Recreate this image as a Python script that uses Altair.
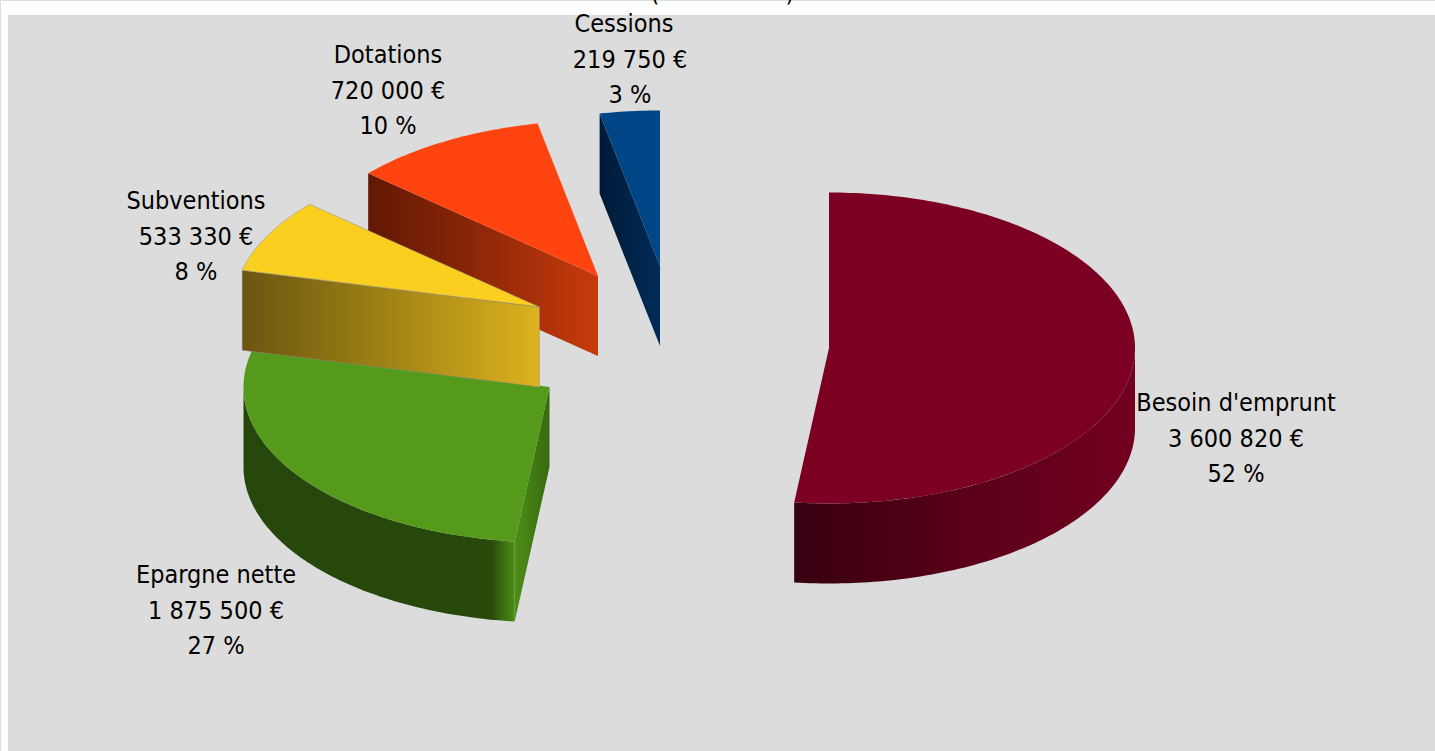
import math
import altair as alt

# Funding sources, in euros
names = ["Besoin d'emprunt", "Epargne nette", "Subventions", "Dotations", "Cessions"]
amounts = [3600820, 1875500, 533330, 720000, 219750]
shares = [52, 27, 8, 10, 3]

# Colours of the top faces
top_colours = ["#7b0021", "#559a1b", "#fbcf1f", "#ff4410", "#004586"]

# Geometry of the exploded pie, in canvas pixels
RX, RY, DEPTH = 306, 155.5, 80
apexes = [(829, 348), (549.5, 387), (539.5, 307), (598, 276), (660, 266)]
label_centres = [(1236, 403), (216, 575), (196, 201), (388, 55), (630, 24)]
name_shift = [0, 0, 0, 0, -6]
LINE_STEP = 35.5

WIDTH, HEIGHT = 1435, 751

total = sum(amounts)
bounds = [0.0]
for a in amounts:
    bounds.append(bounds[-1] + a / total * 360)


def rim(apex, deg, drop=0):
    t = math.radians(deg)
    return [apex[0] + RX * math.sin(t), apex[1] - RY * math.cos(t) + drop]


def sweep(apex, a0, a1, drop=0):
    n = max(2, int(abs(a1 - a0)) + 2)
    return [rim(apex, a0 + (a1 - a0) * i / (n - 1), drop) for i in range(n)]


def shape(ring):
    return {
        "type": "Feature",
        "properties": {},
        "geometry": {"type": "Polygon", "coordinates": [ring + [ring[0]]]},
    }


def top_face(i):
    return shape([list(apexes[i])] + sweep(apexes[i], bounds[i], bounds[i + 1]))


def radial_wall(i, deg):
    ax, ay = apexes[i]
    p = rim(apexes[i], deg)
    return shape([[ax, ay], p, [p[0], p[1] + DEPTH], [ax, ay + DEPTH]])


def outer_wall(i, a0, a1):
    return shape(sweep(apexes[i], a0, a1) + sweep(apexes[i], a1, a0, DEPTH))


def gradient(stops, x2=1, y2=0):
    return alt.Gradient(
        gradient="linear",
        x1=0, y1=0, x2=x2, y2=y2,
        stops=[alt.GradientStop(offset=o, color=c) for o, c in stops],
    )


def piece(feature, fill, **style):
    return (
        alt.Chart(alt.InlineData(values=[feature]))
        .mark_geoshape(fill=fill, **style)
        .project(type="identity", scale=1, translate=[0, 0])
    )


EDGE = dict(stroke="#8c8c8c", strokeWidth=0.5)
NOEDGE = dict(strokeWidth=0)

backdrop = alt.Chart(alt.InlineData(values=[{}])).mark_rect(color="#dcdcdc").encode(
    x=alt.value(8), x2=alt.value(WIDTH), y=alt.value(15), y2=alt.value(HEIGHT)
)

layers = [
    backdrop,
    # Cessions
    piece(radial_wall(4, bounds[4]), gradient([(0, "#001a36"), (1, "#002c58")]), **NOEDGE),
    piece(top_face(4), top_colours[4], **NOEDGE),
    # Dotations
    piece(radial_wall(3, bounds[3]),
          gradient([(0, "#621804"), (0.45, "#8a2607"), (1, "#c83a0c")]), **NOEDGE),
    piece(top_face(3), top_colours[3], **NOEDGE),
    # Epargne nette
    piece(outer_wall(1, bounds[1], 270),
          gradient([(0, "#26470b"), (0.91, "#27490b"), (1, "#4c8d18")]),
          **NOEDGE),
    piece(radial_wall(1, bounds[1]),
          gradient([(0, "#4e8e18"), (1, "#37690f")]), **NOEDGE),
    piece(top_face(1), top_colours[1], **NOEDGE),
    # Subventions
    piece(radial_wall(2, bounds[2]),
          gradient([(0, "#6c5410"), (0.45, "#9b7f14"), (1, "#dcb21f")]), **EDGE),
    piece(top_face(2), top_colours[2], **EDGE),
    # Besoin d'emprunt
    piece(outer_wall(0, 90, bounds[1]),
          gradient([(0, "#360010"), (0.5, "#5a0018"), (1, "#72001e")]), **NOEDGE),
    piece(top_face(0), top_colours[0], **NOEDGE),
]

# Three-line labels: name, amount, share
rows = []
for name, amount, share, (cx, cy), dx in zip(names, amounts, shares, label_centres, name_shift):
    euros = f"{amount:,}".replace(",", " ") + " €"
    for k, line in enumerate([name, euros, f"{share} %"]):
        rows.append({"line": line, "cx": cx + (dx if k == 0 else 0), "cy": cy + k * LINE_STEP})

labels = (
    alt.Chart(alt.InlineData(values=rows))
    .mark_text(font="DejaVu Sans Condensed", fontSize=25, color="#000000",
               align="center", baseline="middle")
    .encode(x=alt.X("cx:Q", scale=None), y=alt.Y("cy:Q", scale=None), text="line:N")
)

# Title line running off the top of the page: only the brackets reach the canvas
heading = (
    alt.Chart(alt.InlineData(values=[{"t": "(", "cx": 655}, {"t": ")", "cx": 790}]))
    .mark_text(font="DejaVu Sans Condensed", fontSize=25, color="#000000",
               align="center", baseline="alphabetic")
    .encode(x=alt.X("cx:Q", scale=None), y=alt.value(1), text="t:N")
)

chart = (
    alt.layer(*layers, labels, heading)
    .properties(width=WIDTH, height=HEIGHT, padding=0, autosize=alt.AutoSizeParams(type="none"))
    .configure_view(stroke=None)
    .configure(background="#ffffff")
)

chart.save("out.html", embed_options={"renderer": "svg", "actions": False})
